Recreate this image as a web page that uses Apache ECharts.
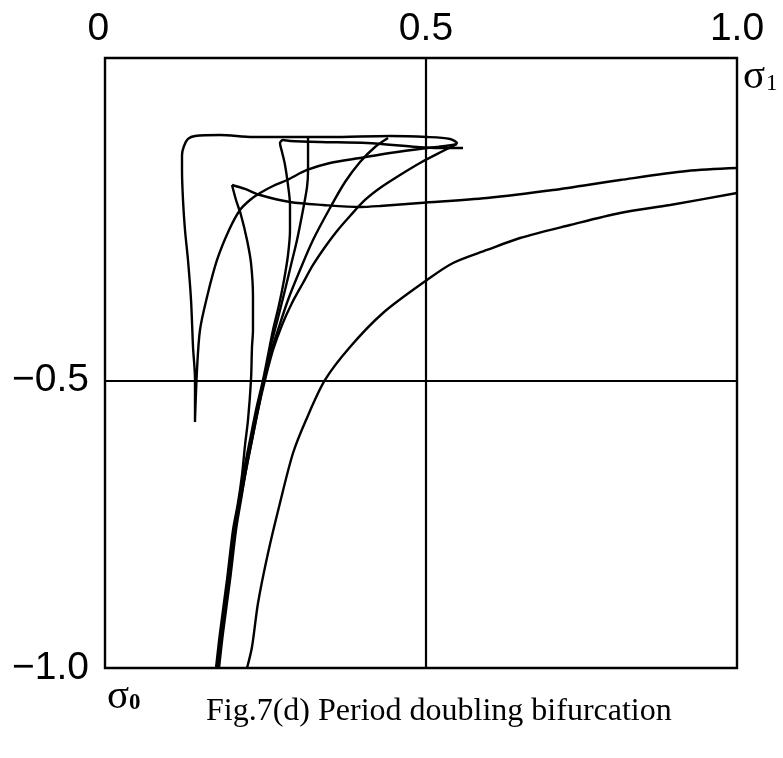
<!DOCTYPE html>
<html>
<head>
<meta charset="utf-8">
<script src="https://cdn.jsdelivr.net/npm/echarts@6/dist/echarts.min.js"></script>
<style>
html,body{margin:0;padding:0;background:#fff;}
#chart{width:783px;height:758px;}
</style>
</head>
<body>
<div id="chart"></div>
<script>
// ---- axis ticks and labels ----
const xTicks = [0, 0.5, 1.0];
const xTickText = ['0', '0.5', '1.0'];
const yTicks = [-1.0, -0.5];
const yTickText = ['\u22121.0', '\u22120.5'];
const refX = 0.5;
const refY = -0.5;

// ---- curves (sigma0, sigma1) ----
const loopLeft = [[0.1287,-0.5725],[0.1287,-0.5343],[0.1287,-0.4995],[0.1255,-0.4422],[0.1223,-0.3605],[0.1174,-0.2910],[0.1126,-0.2389],[0.1094,-0.1867],[0.1078,-0.1346],[0.1078,-0.1085],[0.1110,-0.0929],[0.1174,-0.0807],[0.1287,-0.0755],[0.1689,-0.0738],[0.2219,-0.0773],[0.2653,-0.0773],[0.3457,-0.0773],[0.4422,-0.0755],[0.5017,-0.0773],[0.5387,-0.0807],[0.5499,-0.0877],[0.5306,-0.0929],[0.5017,-0.0964],[0.4422,-0.1051],[0.3940,-0.1138],[0.3457,-0.1224],[0.3088,-0.1346],[0.2766,-0.1520],[0.2541,-0.1624],[0.2332,-0.1746],[0.2171,-0.1867],[0.2010,-0.2041],[0.1834,-0.2389],[0.1641,-0.2910],[0.1480,-0.3553],[0.1367,-0.4126],[0.1319,-0.4821],[0.1287,-0.5690]];

const upperBranch = [[1.000,-0.1311],[0.9197,-0.1363],[0.8120,-0.1520],[0.7042,-0.1694],[0.5981,-0.1833],[0.4904,-0.1920],[0.4261,-0.1972],[0.3940,-0.1989],[0.3345,-0.1954],[0.2814,-0.1902],[0.2332,-0.1781],[0.2091,-0.1676],[0.1882,-0.1607]];

const cuspDescent = [[0.1882,-0.1607],[0.1946,-0.1867],[0.2026,-0.2128],[0.2123,-0.2562],[0.2187,-0.2962],[0.2219,-0.3553],[0.2219,-0.4126],[0.2203,-0.4422],[0.2187,-0.4995],[0.2139,-0.5690],[0.2091,-0.6125],[0.2043,-0.6646],[0.1978,-0.7132],[0.1898,-0.7602],[0.1801,-0.8470],[0.1689,-0.9391],[0.1625,-1.0]];

const innerLoopA = [[0.5596,-0.0964],[0.5226,-0.0964],[0.4856,-0.0946],[0.4052,-0.0877],[0.3297,-0.0860],[0.2814,-0.0842],[0.2702,-0.0825],[0.2653,-0.0877],[0.2686,-0.1033],[0.2734,-0.1259],[0.2782,-0.1607],[0.2814,-0.1954],[0.2814,-0.2389],[0.2782,-0.2823],[0.2718,-0.3257],[0.2637,-0.3692],[0.2541,-0.4126],[0.2461,-0.4561],[0.2380,-0.4995],[0.2268,-0.5516],[0.2171,-0.6038],[0.2075,-0.6559],[0.1994,-0.7080],[0.1914,-0.7602],[0.1817,-0.8470],[0.1705,-0.9391],[0.1641,-1.0]];

const curveD = [[0.1657,-1.0],[0.1721,-0.9391],[0.1834,-0.8470],[0.1930,-0.7602],[0.2010,-0.7080],[0.2091,-0.6559],[0.2187,-0.6038],[0.2284,-0.5516],[0.2396,-0.4995],[0.2493,-0.4561],[0.2621,-0.4126],[0.2782,-0.3605],[0.2975,-0.3084],[0.3184,-0.2562],[0.3457,-0.2006],[0.3699,-0.1555],[0.3940,-0.1207],[0.4181,-0.0946],[0.4390,-0.0790]];

const curveE = [[0.1673,-1.0],[0.1737,-0.9391],[0.1850,-0.8470],[0.1946,-0.7602],[0.2026,-0.7080],[0.2107,-0.6559],[0.2203,-0.6038],[0.2300,-0.5516],[0.2412,-0.4995],[0.2541,-0.4474],[0.2686,-0.4039],[0.2846,-0.3657],[0.3023,-0.3310],[0.3184,-0.2997],[0.3377,-0.2684],[0.3570,-0.2406],[0.3779,-0.2145],[0.4020,-0.1867],[0.4261,-0.1659],[0.4583,-0.1433],[0.4904,-0.1224],[0.5274,-0.1016],[0.5499,-0.0894]];

const innerLoopB = [[0.3104,-0.0773],[0.3104,-0.0999],[0.3104,-0.1346],[0.3088,-0.1641],[0.3023,-0.2041],[0.2927,-0.2562],[0.2830,-0.2997],[0.2734,-0.3431],[0.2621,-0.3918],[0.2509,-0.4387],[0.2412,-0.4908],[0.2316,-0.5429],[0.2219,-0.5951],[0.2123,-0.6472],[0.2026,-0.7028]];

const lowerBranch = [[0.2123,-1.0],[0.2203,-0.9635],[0.2300,-0.8870],[0.2461,-0.8001],[0.2653,-0.7132],[0.2863,-0.6264],[0.3072,-0.5690],[0.3377,-0.4995],[0.3779,-0.4422],[0.4309,-0.3831],[0.5017,-0.3257],[0.5435,-0.2962],[0.5981,-0.2736],[0.6512,-0.2528],[0.7316,-0.2302],[0.8120,-0.2093],[0.8924,-0.1954],[1.000,-0.1746]];

const curves = [loopLeft, upperBranch, cuspDescent, innerLoopA, curveD, curveE, innerLoopB, lowerBranch];

const SANS = '"Liberation Sans", Arial, Helvetica, sans-serif';
const SERIF = '"Liberation Serif", "Times New Roman", serif';

const chart = echarts.init(document.getElementById('chart'), null, {renderer: 'canvas'});

const series = curves.map((c) => ({
  type: 'line',
  data: c,
  showSymbol: false,
  symbol: 'none',
  smooth: 0.3,
  lineStyle: {color: '#000', width: 2.4},
  clip: true,
  silent: true,
  z: 3
}));

series.push({
  type: 'line',
  data: [],
  silent: true,
  markLine: {
    silent: true,
    symbol: ['none', 'none'],
    label: {show: false},
    lineStyle: {color: '#000', width: 2.2, type: 'solid'},
    data: [{xAxis: refX}, {yAxis: refY}],
    animation: false
  }
});

const option = {
  animation: false,
  backgroundColor: '#fff',
  grid: {
    left: 105, right: 46, top: 58, bottom: 90,
    show: true, borderColor: '#000', borderWidth: 2.4,
    backgroundColor: 'transparent',
    containLabel: false,
    outerBoundsMode: 'none'
  },
  xAxis: {
    type: 'value',
    position: 'top',
    min: -0.016,
    max: 1.0,
    axisLine: {show: false},
    axisTick: {show: false},
    splitLine: {show: false},
    axisLabel: {
      show: true,
      customValues: xTicks,
      margin: 9,
      color: '#000',
      fontSize: 39,
      fontFamily: SANS,
      formatter: function (v) {
        const i = xTicks.findIndex(t => Math.abs(t - v) < 1e-9);
        const s = i >= 0 ? xTickText[i] : '';
        return v === 0 ? '{z|' + s + '}' : s;
      },
      rich: {
        z: {padding: [0, 33, 0, 0], fontSize: 39, fontFamily: SANS, color: '#000'}
      }
    }
  },
  yAxis: {
    type: 'value',
    min: -1.0,
    max: 0.06,
    axisLine: {show: false},
    axisTick: {show: false},
    splitLine: {show: false},
    axisLabel: {
      show: true,
      customValues: yTicks,
      margin: 16,
      color: '#000',
      fontSize: 39,
      fontFamily: SANS,
      formatter: function (v) {
        const i = yTicks.findIndex(t => Math.abs(t - v) < 1e-9);
        return i >= 0 ? yTickText[i] : '';
      }
    }
  },
  graphic: [
    {type: 'text', left: 743, top: 57, style: {text: '\u03c3', font: '41px ' + SERIF, fill: '#000'}},
    {type: 'text', left: 766, top: 72, style: {text: '1', font: '23px ' + SERIF, fill: '#000'}},
    {type: 'text', left: 107, top: 677, style: {text: '\u03c3', font: '41px ' + SERIF, fill: '#000'}},
    {type: 'text', left: 129, top: 692, style: {text: '0', font: 'bold 23px ' + SERIF, fill: '#000'}},
    {type: 'text', left: 206, top: 696, style: {text: 'Fig.7(d) Period doubling bifurcation', font: '32px ' + SERIF, fill: '#000'}}
  ],
  series: series
};

chart.setOption(option);
</script>
</body>
</html>
